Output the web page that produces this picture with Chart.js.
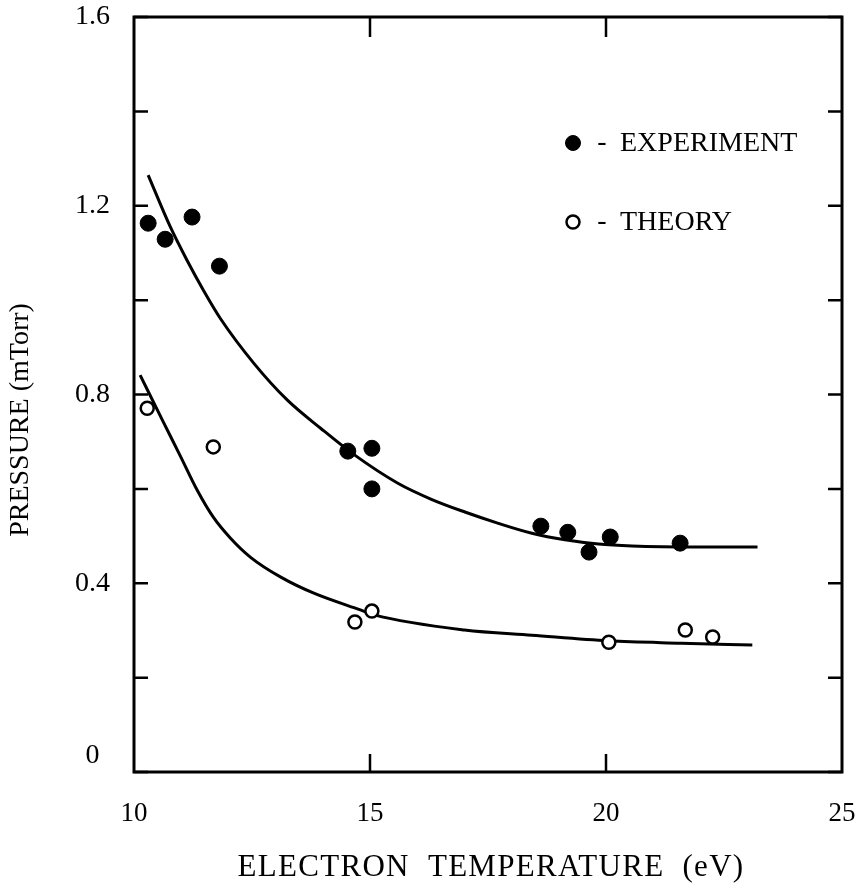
<!DOCTYPE html>
<html>
<head>
<meta charset="utf-8">
<title>Pressure vs electron temperature</title>
<script src="https://cdn.jsdelivr.net/npm/chart.js@4.4.1/dist/chart.umd.min.js"></script>
<style>
  html, body { margin: 0; padding: 0; background: #fff; }
  canvas { display: block; }
</style>
</head>
<body>
<canvas id="chart" width="856" height="895"></canvas>
<script>
const expTemp = [10.3, 10.66, 11.23, 11.81, 14.53, 15.04, 15.04, 18.62, 19.19, 19.64, 20.09, 21.57];
const expPress = [1.163, 1.129, 1.176, 1.072, 0.680, 0.686, 0.600, 0.521, 0.508, 0.466, 0.498, 0.485];

const theoryTemp = [10.28, 11.68, 14.68, 15.04, 20.06, 21.68, 22.26];
const theoryPress = [0.771, 0.689, 0.318, 0.341, 0.275, 0.301, 0.286];

// fitted curves
const expFitTemp = [10.3, 10.77, 11.12, 11.47, 11.83, 12.54, 13.25, 13.96, 14.67, 15.59, 16.3, 17.01, 17.72, 18.43, 19.13, 19.84, 20.55, 21.97, 23.21];
const expFitPress = [1.265, 1.155, 1.085, 1.021, 0.961, 0.866, 0.788, 0.728, 0.672, 0.612, 0.578, 0.551, 0.527, 0.506, 0.492, 0.483, 0.479, 0.477, 0.477];

const theoryFitTemp = [10.13, 10.62, 10.98, 11.34, 11.68, 12.04, 12.47, 13.11, 13.81, 14.81, 15.09, 17.0, 18.43, 20.06, 21.6, 23.1];
const theoryFitPress = [0.841, 0.742, 0.670, 0.597, 0.540, 0.496, 0.455, 0.413, 0.379, 0.343, 0.333, 0.301, 0.290, 0.278, 0.273, 0.269];

const xLabels = [10, 15, 20, 25];
const xTopTicks = [15, 20];
const xBottomTicks = [15, 20];
const yLabels = [0, 0.4, 0.8, 1.2, 1.6];
const yTickMarks = [0, 0.2, 0.4, 0.6, 0.8, 1.0, 1.2, 1.4, 1.6];

const FONT = '"Liberation Serif", "DejaVu Serif", serif';

const toPoints = (xs, ys) => xs.map((x, i) => ({ x: x, y: ys[i] }));

// chart.js pads the plot for tick labels, we place the plot box ourselves
const noPad = s => {
  s.paddingTop = 0;
  s.paddingBottom = 0;
  s.paddingLeft = 0;
  s.paddingRight = 0;
};

// box + inward tick marks
const framePlugin = {
  id: 'frame',
  beforeDatasetsDraw(chart) {
    const { ctx, chartArea: a, scales: { x, y } } = chart;
    ctx.save();
    ctx.strokeStyle = '#000';
    ctx.lineWidth = 3;
    ctx.strokeRect(a.left, a.top, a.right - a.left, a.bottom - a.top);

    ctx.lineWidth = 2.5;
    ctx.beginPath();
    yTickMarks.forEach(v => {
      const py = y.getPixelForValue(v);
      ctx.moveTo(a.left, py); ctx.lineTo(a.left + 14, py);
      ctx.moveTo(a.right, py); ctx.lineTo(a.right - 14, py);
    });
    xBottomTicks.forEach(v => {
      const px = x.getPixelForValue(v);
      ctx.moveTo(px, a.bottom); ctx.lineTo(px, a.bottom - 18);
    });
    xTopTicks.forEach(v => {
      const px = x.getPixelForValue(v);
      ctx.moveTo(px, a.top); ctx.lineTo(px, a.top + 20);
    });
    ctx.stroke();
    ctx.restore();
  }
};

// axis titles and the in-plot legend
const textPlugin = {
  id: 'texts',
  afterDraw(chart) {
    const { ctx, chartArea: a } = chart;
    ctx.save();
    ctx.fillStyle = '#000';
    ctx.textBaseline = 'middle';

    // x title
    ctx.font = '31px ' + FONT;
    ctx.textAlign = 'center';
    ctx.letterSpacing = '1.3px';
    ctx.fillText('ELECTRON  TEMPERATURE  (eV)', (a.left + a.right) / 2 + 3, 868);

    // y title
    ctx.save();
    ctx.translate(21, 420);
    ctx.rotate(-Math.PI / 2);
    ctx.font = '28px ' + FONT;
    ctx.letterSpacing = '0px';
    ctx.fillText('PRESSURE (mTorr)', 0, 0);
    ctx.restore();

    // legend
    const items = [
      { ds: chart.data.datasets[0], text: 'EXPERIMENT', yy: 143, r: 7.5 },
      { ds: chart.data.datasets[1], text: 'THEORY', yy: 222, r: 6.5 }
    ];
    ctx.font = '28px ' + FONT;
    ctx.letterSpacing = '0px';
    items.forEach(it => {
      ctx.beginPath();
      ctx.arc(573, it.yy, it.r, 0, Math.PI * 2);
      ctx.fillStyle = it.ds.pointBackgroundColor;
      ctx.fill();
      ctx.lineWidth = it.ds.pointBorderWidth;
      ctx.strokeStyle = it.ds.pointBorderColor;
      ctx.stroke();
      ctx.fillStyle = '#000';
      ctx.textAlign = 'center';
      ctx.fillText('-', 602, it.yy);
      ctx.textAlign = 'left';
      ctx.fillText(it.text, 620, it.yy + 1);
    });
    ctx.restore();
  }
};

new Chart(document.getElementById('chart'), {
  type: 'scatter',
  data: {
    datasets: [
      {
        label: 'EXPERIMENT',
        data: toPoints(expTemp, expPress),
        pointRadius: 8,
        pointBackgroundColor: '#000',
        pointBorderColor: '#000',
        pointBorderWidth: 1
      },
      {
        label: 'THEORY',
        data: toPoints(theoryTemp, theoryPress),
        pointRadius: 6.5,
        pointBackgroundColor: '#fff',
        pointBorderColor: '#000',
        pointBorderWidth: 2.5
      },
      {
        label: 'exp fit',
        type: 'line',
        data: toPoints(expFitTemp, expFitPress),
        borderColor: '#000',
        borderWidth: 3,
        pointRadius: 0,
        cubicInterpolationMode: 'monotone',
        fill: false,
        order: 5
      },
      {
        label: 'theory fit',
        type: 'line',
        data: toPoints(theoryFitTemp, theoryFitPress),
        borderColor: '#000',
        borderWidth: 3,
        pointRadius: 0,
        cubicInterpolationMode: 'monotone',
        fill: false,
        order: 5
      }
    ]
  },
  options: {
    responsive: false,
    animation: false,
    devicePixelRatio: 1,
    layout: { padding: { top: 17, right: 14, left: 0, bottom: 0 } },
    plugins: {
      legend: { display: false },
      tooltip: { enabled: false }
    },
    scales: {
      x: {
        type: 'linear',
        min: 10,
        max: 25,
        afterBuildTicks: s => { s.ticks = xLabels.map(v => ({ value: v })); },
        afterFit: s => { s.height = 123; noPad(s); },
        grid: { display: false, drawTicks: false },
        border: { display: false },
        ticks: {
          color: '#000',
          font: { family: FONT, size: 27 },
          padding: 26,
          maxRotation: 0,
          autoSkip: false
        }
      },
      y: {
        type: 'linear',
        min: 0,
        max: 1.6,
        afterBuildTicks: s => { s.ticks = yLabels.map(v => ({ value: v })); },
        afterFit: s => { s.width = 134; noPad(s); },
        grid: { display: false, drawTicks: false },
        border: { display: false },
        ticks: {
          color: '#000',
          font: { family: FONT, size: 28 },
          padding: 24,
          crossAlign: 'center',
          autoSkip: false,
          callback: v => (v === 0 ? ['0', ''] : v.toFixed(1))
        }
      }
    }
  },
  plugins: [framePlugin, textPlugin]
});
</script>
</body>
</html>
